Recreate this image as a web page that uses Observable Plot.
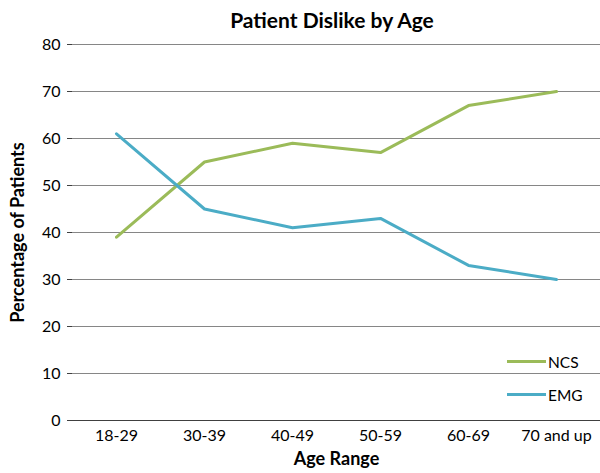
<!DOCTYPE html>
<html><head><meta charset="utf-8">
<script src="https://cdn.jsdelivr.net/npm/d3@7"></script>
<script src="https://cdn.jsdelivr.net/npm/@observablehq/plot@0.6"></script>
<style>
body{margin:0;background:#fff;font-family:Lato,"Open Sans",sans-serif;}
#wrap{position:relative;width:600px;height:473px;}
#title{height:32px;line-height:40px;text-align:center;font-weight:bold;font-size:21px;color:#000;padding-left:64px;box-sizing:border-box;}
#legend{position:absolute;left:507px;top:345px;font-size:15.5px;color:#000;}
#legend div{display:flex;align-items:center;height:33px;}
#legend span.sw{display:inline-block;width:39px;height:3px;margin-right:2px;}
</style></head>
<body><div id="wrap"><div id="title">Patient Dislike by Age</div><div id="chart"></div>
<div id="legend"></div></div>
<script>
const ageRanges = ["18-29","30-39","40-49","50-59","60-69","70 and up"];
const ncs = [39,55,59,57,67,70];
const emg = [61,45,41,43,33,30];
const seriesNames = ["NCS","EMG"];
const seriesColors = ["#9BBB59","#4BACC6"];
const yTicks = [0,10,20,30,40,50,60,70,80];

const rows = [];
ageRanges.forEach((a,i)=>{ rows.push({age:a,value:ncs[i],series:"NCS"}); rows.push({age:a,value:emg[i],series:"EMG"}); });

const plot = Plot.plot({
  width:600, height:441,
  marginTop:12, marginBottom:53, marginLeft:72, marginRight:0,
  style:{fontFamily:"Lato, 'Open Sans', sans-serif", fontSize:"16px", color:"#000", background:"#fff", overflow:"visible"},
  x:{type:"point", domain:ageRanges, padding:0.5, label:null},
  y:{domain:[0,80], ticks:yTicks, label:null},
  color:{domain:seriesNames, range:seriesColors},
  marks:[
    Plot.gridY(yTicks.filter(d=>d>0),{stroke:"#868686", strokeOpacity:1, strokeWidth:1}),
    Plot.ruleY([0],{stroke:"#404040", strokeWidth:1.2}),
    Plot.ruleX([0],{frameAnchor:"left", stroke:"#404040", strokeWidth:1.2, y1:0, y2:80}),
    Plot.axisY({ticks:yTicks, tickSize:5, tickPadding:7, stroke:"#404040", fontSize:16, label:null}),
    Plot.axisX({tickSize:0, tickPadding:9, fontSize:16, label:null}),
    Plot.line(rows,{x:"age", y:"value", z:"series", stroke:"series", strokeWidth:3, strokeLinejoin:"round"}),
    Plot.text(["Age Range"],{frameAnchor:"bottom", dy:44, fontWeight:"bold", fontSize:18}),
    Plot.text(["Percentage of Patients"],{frameAnchor:"left", textAnchor:"middle", dx:-54, rotate:-90, fontWeight:"bold", fontSize:18})
  ]
});
document.getElementById("chart").appendChild(plot);
const lg = document.getElementById("legend");
seriesNames.forEach((s,i)=>{
  const d=document.createElement("div");
  d.innerHTML=`<span class="sw" style="background:${seriesColors[i]}"></span>${s}`;
  lg.appendChild(d);
});
</script></body></html>
